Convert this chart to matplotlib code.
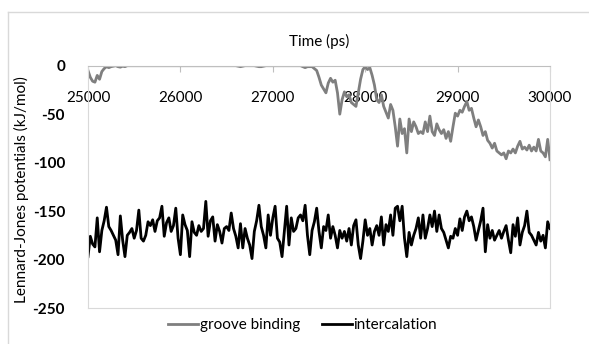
import matplotlib
matplotlib.use("Agg")
import matplotlib.pyplot as plt
import numpy as np
from matplotlib.lines import Line2D

plt.rcParams["font.family"] = ["Lato", "DejaVu Sans"]

# time axis, 25 ps sampling
time_ps = np.arange(25000, 30001, 25)

groove_binding = [
    -5, -12, -16, -17, -10, -14, -6, -3, -1, -2,
    -1, -0.5, 0, -1, -1.5, -0.5, -1, 0, 0, 0,
    0, 0, 0, 0, 0, 0, 0, 0, 0, 0,
    0, 0, 0, 0, 0, 0, 0, 0, 0, 0,
    0, 0, 0, 0, 0, 0, 0, 0, 0, 0,
    0, 0, 0, 0, 0, 0, 0, 0, 0, 0,
    0, 0, 0, 0, 0, -0.5, -1, -0.5, 0, 0,
    0, 0, 0, -0.5, -1, -1, -0.5, 0, 0, 0,
    0, 0, 0, 0, 0, 0, 0, 0, 0, 0,
    0, 0, 0, -1, -2, -1, -1, -1, -3, -5,
    -12, -20, -24, -28, -18, -13, -17, -15, -28, -50,
    -35, -27, -32, -30, -38, -40, -42, -28, -14, -4,
    -1, -4, -2, -10, -20, -35, -38, -30, -42, -48,
    -54, -40, -46, -63, -83, -55, -70, -65, -90, -55,
    -68, -58, -63, -70, -68, -70, -58, -68, -52, -68,
    -72, -60, -66, -70, -66, -75, -68, -78, -63, -49,
    -52, -46, -48, -42, -37, -46, -44, -54, -63, -56,
    -63, -72, -68, -77, -80, -85, -80, -88, -90, -92,
    -90, -96, -88, -90, -86, -90, -83, -78, -86, -84,
    -87, -82, -88, -84, -88, -76, -88, -90, -94, -76,
    -97,
]

intercalation = [
    -197, -176, -184, -187, -157, -192, -170, -160, -146, -166,
    -170, -175, -180, -195, -155, -180, -197, -175, -172, -168,
    -178, -170, -149, -178, -181, -175, -161, -165, -159, -171,
    -160, -157, -145, -176, -162, -157, -171, -165, -147, -178,
    -195, -154, -164, -170, -197, -161, -172, -175, -165, -171,
    -168, -140, -176, -160, -156, -181, -164, -171, -183, -168,
    -166, -170, -152, -168, -176, -188, -163, -188, -168, -178,
    -185, -199, -171, -160, -144, -166, -175, -188, -154, -175,
    -157, -145, -178, -182, -197, -171, -145, -185, -157, -171,
    -168, -157, -154, -160, -144, -175, -195, -170, -161, -147,
    -171, -188, -166, -170, -154, -178, -166, -175, -188, -170,
    -178, -171, -181, -168, -185, -165, -159, -185, -199, -181,
    -159, -175, -168, -185, -171, -165, -175, -156, -185, -164,
    -171, -154, -175, -147, -145, -160, -145, -178, -197, -172,
    -185, -175, -168, -157, -178, -154, -178, -168, -154, -166,
    -150, -171, -154, -168, -172, -180, -188, -176, -178, -168,
    -175, -158, -170, -156, -150, -160, -156, -166, -180, -170,
    -160, -147, -192, -164, -178, -170, -180, -175, -170, -178,
    -171, -165, -180, -193, -164, -176, -157, -185, -172, -165,
    -150, -172, -175, -180, -185, -172, -181, -175, -188, -161,
    -168,
]

x_ticks = [25000, 26000, 27000, 28000, 29000, 30000]
y_ticks = [0, -50, -100, -150, -200, -250]

W, H = 589, 344
FS = 11
fig = plt.figure(figsize=(W / 100, H / 100), dpi=100)
ax = fig.add_axes([88 / W, 1 - 308 / H, (550 - 88) / W, (308 - 65.7) / H])

ax.plot(time_ps, groove_binding, color="#7f7f7f", lw=2.0, label="groove binding")
ax.plot(time_ps, intercalation, color="black", lw=2.0, label="intercalation")

ax.set_xlim(25000, 30000)
ax.set_ylim(-250, 0)
ax.set_xticks(x_ticks)
ax.set_yticks(y_ticks)
ax.set_yticklabels([str(v) for v in y_ticks], fontweight="bold")

ax.tick_params(axis="x", top=True, bottom=False, labeltop=True, labelbottom=False,
               direction="in", length=4, color="#bfbfbf", pad=-28, labelsize=FS)
ax.tick_params(axis="y", left=False, pad=13, labelsize=FS)

for side in ["left", "right", "bottom"]:
    ax.spines[side].set_color("#d9d9d9")
ax.spines["top"].set_color("#bfbfbf")

ax.xaxis.set_label_position("top")
ax.set_xlabel("Time (ps)", fontsize=FS, va="center")
ax.xaxis.set_label_coords(0.5, 1.098)
ax.set_ylabel("Lennard-Jones potentials (kJ/mol)", fontsize=FS, va="center")
ax.yaxis.set_label_coords(-0.143, 0.49)

ax.legend(loc="center", bbox_to_anchor=(302.5 / W, 1 - 325 / H),
          bbox_transform=fig.transFigure, ncol=2, frameon=False, fontsize=FS,
          handlelength=2.0, handletextpad=0.1, columnspacing=1.4)

# outer chart border (cropped on the right / bottom)
fig.add_artist(Line2D([8 / W, 8 / W], [-0.1, 1 - 12 / H], transform=fig.transFigure,
                      color="#d9d9d9", lw=1))
fig.add_artist(Line2D([8 / W, 1.1], [1 - 12 / H, 1 - 12 / H], transform=fig.transFigure,
                      color="#d9d9d9", lw=1))

fig.savefig("out.png", dpi=100)
